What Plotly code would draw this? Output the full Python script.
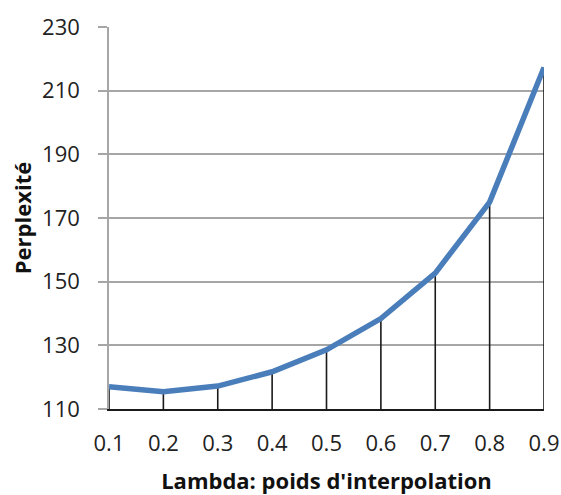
import plotly.graph_objects as go

lambdas = [0.1, 0.2, 0.3, 0.4, 0.5, 0.6, 0.7, 0.8, 0.9]
perplexity = [117.0, 115.4, 117.2, 121.7, 128.6, 138.4, 152.7, 175.0, 217.3]
y_ticks = [110, 130, 150, 170, 190, 210, 230]
x_ticks = [0.1, 0.2, 0.3, 0.4, 0.5, 0.6, 0.7, 0.8, 0.9]
y_min, y_max = 110, 230

# drop lines built from data
dx, dy = [], []
for x, y in zip(lambdas, perplexity):
    dx += [x, x, None]
    dy += [y_min, y, None]

fig = go.Figure()
fig.add_trace(go.Scatter(x=dx, y=dy, mode="lines",
                         line=dict(color="#1a1a1a", width=1.6),
                         hoverinfo="skip", showlegend=False))
fig.add_trace(go.Scatter(x=lambdas, y=perplexity, mode="lines",
                         line=dict(color="#4a7ebb", width=5.5),
                         showlegend=False))

font_family = "Open Sans, Liberation Sans, sans-serif"
fig.update_layout(
    width=561, height=495,
    margin=dict(l=109, r=17, t=26.5, b=85.5),
    plot_bgcolor="white", paper_bgcolor="white",
    font=dict(family=font_family, color="#222222"),
)
fig.update_xaxes(
    range=[0.1, 0.9], tickvals=x_ticks, ticktext=[str(v) for v in x_ticks],
    showgrid=False, zeroline=False, automargin=False,
    showline=True, linecolor="#1a1a1a", linewidth=1.6,
    ticks="", tickfont=dict(size=22, color="#222222"),
    ticklabelstandoff=14,
    title=dict(text="<b>Lambda: poids d'interpolation</b>",
               font=dict(size=22, color="#111111"), standoff=18),
)
fig.update_yaxes(
    range=[y_min, y_max], tickvals=y_ticks,
    showgrid=True, gridcolor="#a6a6a6", gridwidth=1.6,
    zeroline=False, automargin=False,
    showline=True, linecolor="#a6a6a6", linewidth=1.6,
    ticks="outside", ticklen=9, tickcolor="#a6a6a6", tickwidth=1.6,
    tickfont=dict(size=22, color="#222222"),
    ticklabelstandoff=14,
    title=dict(text="<b>Perplexité</b>",
               font=dict(size=22, color="#111111"), standoff=4),
)
fig.write_html(
    "out.html",
    config={"displayModeBar": False},
    post_script="document.body.style.margin='0';document.body.style.overflow='hidden';",
)
